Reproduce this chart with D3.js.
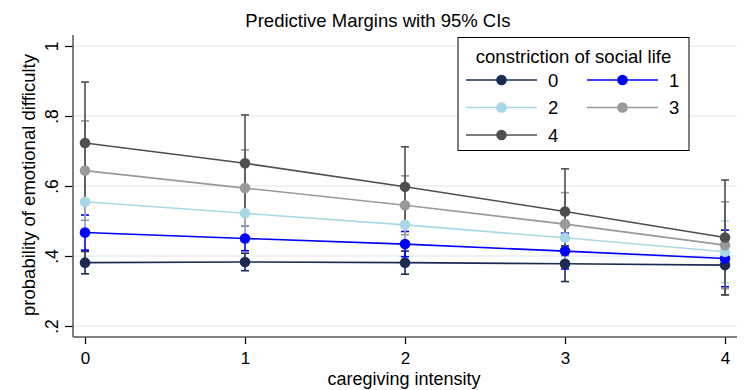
<!DOCTYPE html>
<html>
<head>
<meta charset="utf-8">
<script src="https://cdn.jsdelivr.net/npm/d3@7"></script>
<style>
  body { margin: 0; background: #fff; }
  svg text { font-family: "Liberation Sans", Arial, Helvetica, sans-serif; fill: #000; }
</style>
</head>
<body>
<div id="chart"></div>
<script>
// caregiving intensity levels
const intensity = [0, 1, 2, 3, 4];
const groups = ["0", "1", "2", "3", "4"];
const colors = ["#1c2b52", "#0000ff", "#a8d8e6", "#999999", "#4f4f4f"];

// predictive margins per constriction level
const est0 = [0.381, 0.383, 0.381, 0.378, 0.374];
const est1 = [0.467, 0.450, 0.434, 0.414, 0.393];
const est2 = [0.555, 0.522, 0.489, 0.452, 0.412];
const est3 = [0.644, 0.594, 0.545, 0.491, 0.431];
const est4 = [0.723, 0.665, 0.598, 0.527, 0.453];

const lo0 = [0.349, 0.358, 0.348, 0.327, 0.289];
const hi0 = [0.413, 0.408, 0.414, 0.429, 0.459];
const lo1 = [0.417, 0.415, 0.398, 0.363, 0.312];
const hi1 = [0.517, 0.485, 0.470, 0.465, 0.474];
const lo2 = [0.470, 0.452, 0.429, 0.387, 0.324];
const hi2 = [0.640, 0.592, 0.549, 0.517, 0.500];
const lo3 = [0.502, 0.485, 0.461, 0.401, 0.307];
const hi3 = [0.786, 0.703, 0.629, 0.581, 0.555];
const lo4 = [0.549, 0.527, 0.484, 0.405, 0.289];
const hi4 = [0.897, 0.803, 0.712, 0.649, 0.617];

const yTicks = [0.2, 0.4, 0.6, 0.8, 1];
const yTickLabels = [".2", ".4", ".6", ".8", "1"];

const series = [
  { est: est0, lo: lo0, hi: hi0 },
  { est: est1, lo: lo1, hi: hi1 },
  { est: est2, lo: lo2, hi: hi2 },
  { est: est3, lo: lo3, hi: hi3 },
  { est: est4, lo: lo4, hi: hi4 }
];

const W = 749, H = 390;
const plot = { left: 73, right: 737, top: 35, bottom: 337 };

const svg = d3.select("#chart").append("svg").attr("width", W).attr("height", H);

const x = d3.scaleLinear().domain([0, 4]).range([85, 725]);
const y = d3.scaleLinear().domain([0.2, 1]).range([326, 46]);

// gridlines
svg.append("g").selectAll("line")
  .data(yTicks)
  .enter().append("line")
  .attr("x1", plot.left).attr("x2", plot.right)
  .attr("y1", d => y(d)).attr("y2", d => y(d))
  .attr("stroke", "#e6eff1").attr("stroke-width", 1.5);

// y axis
const yAxis = svg.append("g")
  .attr("transform", `translate(${plot.left},0)`)
  .call(d3.axisLeft(y).tickValues(yTicks).tickSize(8).tickSizeOuter(0)
    .tickFormat((d, i) => yTickLabels[i]));
yAxis.select(".domain").remove();
yAxis.selectAll(".tick line").attr("stroke", "#000").attr("stroke-width", 1.2);
yAxis.selectAll(".tick text")
  .attr("transform", "rotate(-90)")
  .attr("x", 0).attr("y", -15.5).attr("dy", 0)
  .attr("text-anchor", "middle")
  .style("font-size", "17.5px")
  .style("font-family", "'Liberation Sans', Arial, sans-serif");

// x axis
const xAxis = svg.append("g")
  .attr("transform", `translate(0,${plot.bottom})`)
  .call(d3.axisBottom(x).tickValues(intensity).tickSize(7).tickSizeOuter(0)
    .tickFormat(d3.format("d")));
xAxis.select(".domain").remove();
xAxis.selectAll(".tick line").attr("stroke", "#000").attr("stroke-width", 1.2);
xAxis.selectAll(".tick text")
  .attr("y", 26.5).attr("dy", 0)
  .style("font-size", "17px")
  .style("font-family", "'Liberation Sans', Arial, sans-serif");

// axis lines
svg.append("line")
  .attr("x1", plot.left).attr("x2", plot.left)
  .attr("y1", plot.top).attr("y2", plot.bottom)
  .attr("stroke", "#555").attr("stroke-width", 1.5);
svg.append("line")
  .attr("x1", plot.left).attr("x2", plot.right)
  .attr("y1", plot.bottom).attr("y2", plot.bottom)
  .attr("stroke", "#555").attr("stroke-width", 1.5);

// confidence intervals
const capW = 4;
series.forEach((s, k) => {
  const g = svg.append("g").attr("stroke", colors[k]).attr("stroke-width", 1.6);
  intensity.forEach((xi, i) => {
    g.append("line")
      .attr("x1", x(xi)).attr("x2", x(xi))
      .attr("y1", y(s.lo[i])).attr("y2", y(s.hi[i]));
    g.append("line")
      .attr("x1", x(xi) - capW).attr("x2", x(xi) + capW)
      .attr("y1", y(s.lo[i])).attr("y2", y(s.lo[i]));
    g.append("line")
      .attr("x1", x(xi) - capW).attr("x2", x(xi) + capW)
      .attr("y1", y(s.hi[i])).attr("y2", y(s.hi[i]));
  });
});

// connected lines with markers
const line = d3.line().x((d, i) => x(intensity[i])).y(d => y(d));
series.forEach((s, k) => {
  svg.append("path")
    .datum(s.est)
    .attr("d", line)
    .attr("fill", "none")
    .attr("stroke", colors[k])
    .attr("stroke-width", 1.6);
  svg.append("g").selectAll("circle")
    .data(s.est)
    .enter().append("circle")
    .attr("cx", (d, i) => x(intensity[i]))
    .attr("cy", d => y(d))
    .attr("r", 5.3)
    .attr("fill", colors[k]);
});

// title
svg.append("text")
  .attr("x", 378).attr("y", 26.5)
  .attr("text-anchor", "middle")
  .style("font-size", "18.5px")
  .text("Predictive Margins with 95% CIs");

// axis titles
svg.append("text")
  .attr("x", 404).attr("y", 385)
  .attr("text-anchor", "middle")
  .style("font-size", "18px")
  .text("caregiving intensity");
svg.append("text")
  .attr("transform", `translate(35,${(y(0.2) + y(1)) / 2 - 1}) rotate(-90)`)
  .attr("text-anchor", "middle")
  .style("font-size", "18.5px")
  .text("probability of emotional difficulty");

// legend
const leg = svg.append("g");
leg.append("rect")
  .attr("x", 458).attr("y", 37.5)
  .attr("width", 231).attr("height", 113)
  .attr("fill", "#fff").attr("stroke", "#000").attr("stroke-width", 1);
leg.append("text")
  .attr("x", 573.5).attr("y", 63)
  .attr("text-anchor", "middle")
  .style("font-size", "18.5px")
  .text("constriction of social life");
const colX = [466, 587];
const rowY = [80, 107.5, 135];
groups.forEach((gname, k) => {
  const cx = colX[k % 2], cy = rowY[Math.floor(k / 2)];
  leg.append("line")
    .attr("x1", cx).attr("x2", cx + 71)
    .attr("y1", cy).attr("y2", cy)
    .attr("stroke", colors[k]).attr("stroke-width", 1.6);
  leg.append("circle")
    .attr("cx", cx + 35.5).attr("cy", cy).attr("r", 5.3)
    .attr("fill", colors[k]);
  leg.append("text")
    .attr("x", cx + 82).attr("y", cy + 6.5)
    .style("font-size", "18.5px")
    .text(gname);
});
</script>
</body>
</html>
